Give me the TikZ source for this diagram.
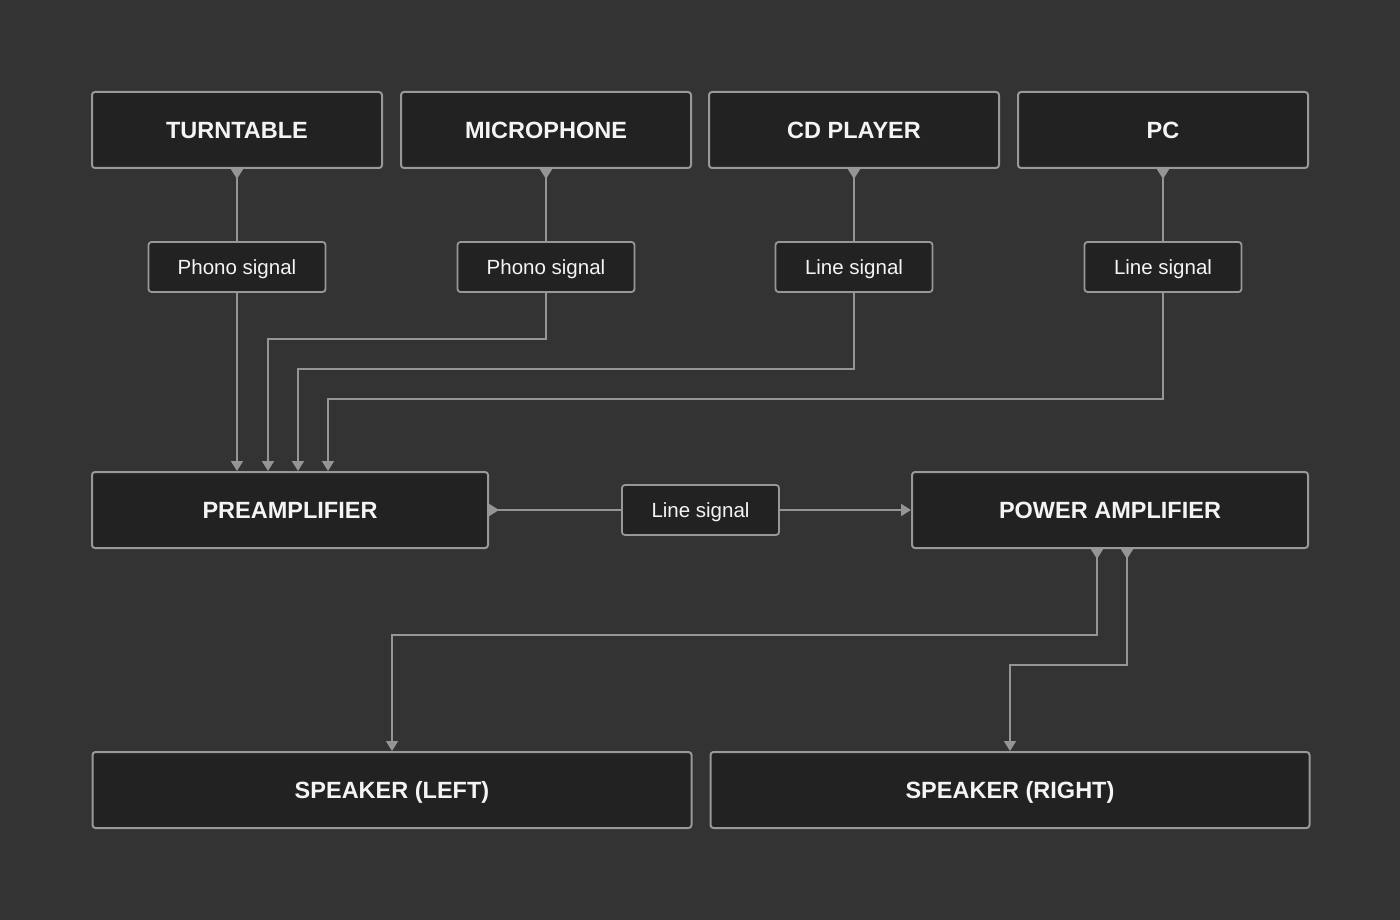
\documentclass[tikz,border=0pt]{standalone}
\usepackage{fontspec}
\setmainfont{Liberation Sans}
\usetikzlibrary{arrows.meta,calc}
\definecolor{bgc}{HTML}{333333}
\definecolor{boxc}{HTML}{222222}
\definecolor{edgec}{HTML}{989898}
\definecolor{linec}{HTML}{959595}
\definecolor{txtc}{HTML}{F4F4F4}
\tikzset{
  titlebox/.style={draw=edgec, line width=2pt, fill=boxc, rounded corners=3pt, minimum height=76pt, inner sep=0pt, text=txtc, font=\fontsize{23.5}{27}\selectfont\bfseries, text height=17pt, text depth=0pt},
  labelbox/.style={draw=edgec, line width=1.8pt, fill=boxc, rounded corners=3pt, minimum height=50pt, inner sep=0pt, text=txtc, font=\fontsize{20.5}{24}\selectfont, text height=15pt, text depth=1pt},
  conn/.style={draw=linec, line width=1.9pt},
  tip/.style={-{Triangle[width=12pt,length=10pt]}},
  tailtip/.style={{Triangle[reversed,width=12pt,length=10pt]}-},
  both/.style={{Triangle[reversed,width=12pt,length=10pt]}-{Triangle[width=12pt,length=10pt]}}
}
\begin{document}
\begin{tikzpicture}[x=1pt,y=-1pt]
\useasboundingbox (0,0) rectangle (1400,920);
\fill[bgc] (0,0) rectangle (1400,920);
% sources
\node[titlebox, minimum width=290pt] (tt) at (237,130) {TURNTABLE};
\node[titlebox, minimum width=290pt] (mic) at (546,130) {MICROPHONE};
\node[titlebox, minimum width=290pt] (cd) at (854,130) {CD PLAYER};
\node[titlebox, minimum width=290pt] (pc) at (1163,130) {PC};
% signal labels
\node[labelbox, minimum width=177pt] (s1) at (237,267) {Phono signal};
\node[labelbox, minimum width=177pt] (s2) at (546,267) {Phono signal};
\node[labelbox, minimum width=157pt] (s3) at (854,267) {Line signal};
\node[labelbox, minimum width=157pt] (s4) at (1163,267) {Line signal};
% amplifiers
\node[titlebox, minimum width=396pt] (pre) at (290,510) {PREAMPLIFIER};
\node[labelbox, minimum width=157pt] (ls) at (700.5,510) {Line signal};
\node[titlebox, minimum width=396pt] (pa) at (1110,510) {POWER AMPLIFIER};
% speakers
\node[titlebox, minimum width=599pt] (spl) at (392,790) {SPEAKER (LEFT)};
\node[titlebox, minimum width=599pt] (spr) at (1010,790) {SPEAKER (RIGHT)};
% routing points
\coordinate (r2) at (268,339);
\coordinate (r3) at (298,369);
\coordinate (r4) at (328,399);
\coordinate (q1) at (1097,635);
\coordinate (q2) at (1127,665);
% connectors from sources to labels
\draw[conn, tailtip] (tt.south) -- (tt.south |- s1.north);
\draw[conn, tailtip] (mic.south) -- (mic.south |- s2.north);
\draw[conn, tailtip] (cd.south) -- (cd.south |- s3.north);
\draw[conn, tailtip] (pc.south) -- (pc.south |- s4.north);
% labels to preamp
\draw[conn, tip] (s1.south) -- (s1.south |- pre.north);
\draw[conn, tip] (s2.south) |- (r2) -- (r2 |- pre.north);
\draw[conn, tip] (s3.south) |- (r3) -- (r3 |- pre.north);
\draw[conn, tip] (s4.south) |- (r4) -- (r4 |- pre.north);
% preamp to power amp
\draw[conn, tailtip] (pre.east) -- (pre.east -| ls.west);
\draw[conn, tip] (ls.east) -- (ls.east -| pa.west);
% power amp to speakers
\draw[conn, both] (pa.south -| q1) -- (q1) -| (spl.north);
\draw[conn, both] (pa.south -| q2) -- (q2) -| (spr.north);
\end{tikzpicture}
\end{document}
